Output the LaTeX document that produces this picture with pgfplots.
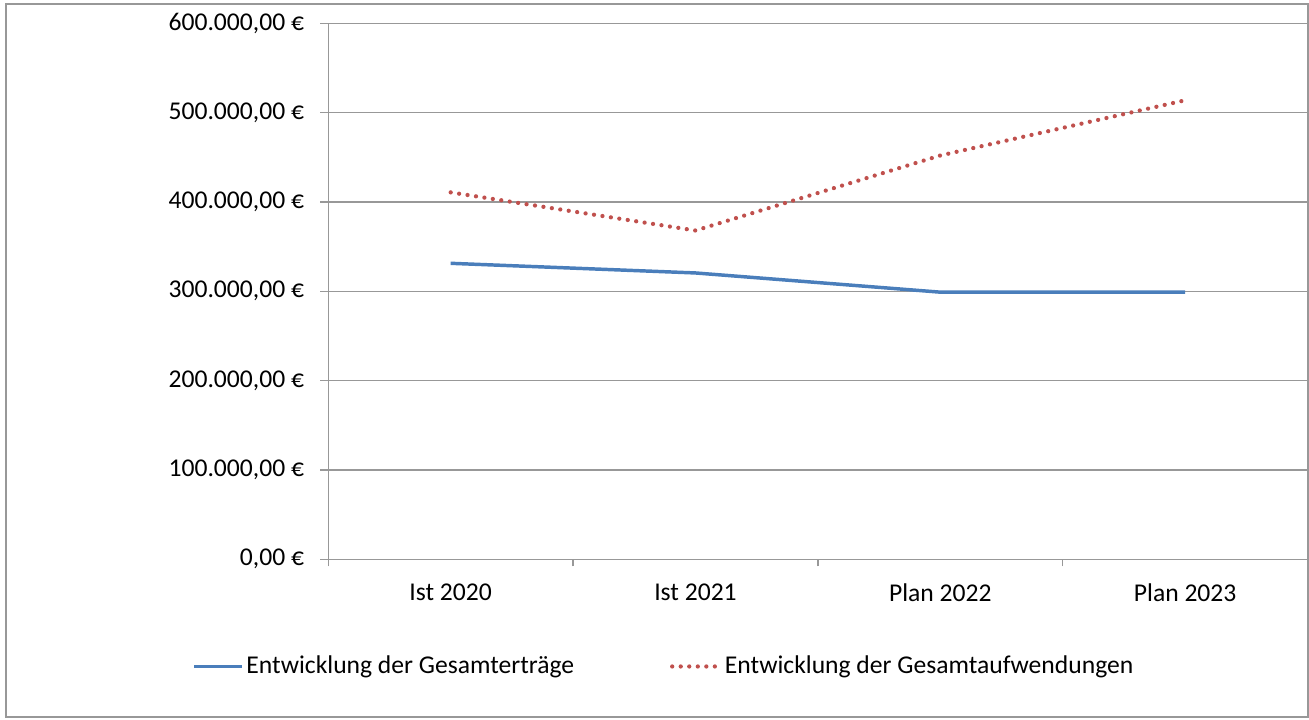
\documentclass[border=0pt]{standalone}
\usepackage{pgfplots}
\pgfplotsset{compat=1.18}
\usepackage{fontspec}
\setmainfont{Carlito}
\definecolor{xblue}{HTML}{4A7EBB}
\definecolor{xred}{HTML}{C0504D}
\definecolor{xgrid}{HTML}{989898}
\begin{document}
\fontsize{19.2}{23}\selectfont
\begin{tikzpicture}
\path (0pt,0pt) rectangle (981.75pt,539.25pt);
\draw[xgrid, line width=0.9pt] (4.5pt,1.5pt) rectangle (981pt,536.25pt);
\begin{axis}[
  at={(338pt,119.8pt)}, anchor=origin,
  scale only axis, width=734.5pt, height=402pt,
  xmin=-0.5, xmax=3.5, ymin=0, ymax=600000,
  scaled y ticks=false,
  axis x line=bottom, axis y line=left,
  axis line style={xgrid, line width=0.9pt, -},
  xtick={0,1,2,3},
  xticklabels={Ist 2020, Ist 2021, Plan 2022, Plan 2023},
  major x tick style={draw=none},
  minor xtick={-0.5,0.5,1.5,2.5,3.5},
  minor tick length=5.25pt,
  minor x tick style={xgrid, line width=0.9pt},
  ytick={0,100000,200000,300000,400000,500000,600000},
  yticklabels={{0,00 €},{100.000,00 €},{200.000,00 €},{300.000,00 €},{400.000,00 €},{500.000,00 €},{600.000,00 €}},
  tick align=outside, major tick length=6pt,
  major y tick style={xgrid, line width=0.9pt},
  ymajorgrids, grid style={xgrid, line width=0.9pt},
  xticklabel style={inner sep=0pt, yshift=-12pt},
  yticklabel style={inner sep=0pt, xshift=-12pt},
  tick label style={font=\fontsize{19.2}{23}\selectfont},
  clip=false,
  legend columns=2,
  legend style={at={(0.343,-0.2)}, anchor=center, draw=none, fill=none,
    font=\fontsize{19.2}{23}\selectfont,
    /tikz/every odd column/.append style={column sep=0pt},
    /tikz/every even column/.append style={column sep=70pt},
    nodes={inner sep=2pt}},
  legend image code/.code={\draw[#1] (0pt,0pt) -- (36pt,0pt);},
]
\addplot[xblue, line width=2.6pt] coordinates {(0,331300) (1,320500) (2,299000) (3,299000)};
\addlegendentry{Entwicklung der Gesamterträge}
\addplot[xred, line width=3.2pt, line cap=round, dash pattern=on 0pt off 6.4pt] coordinates {(0,410700) (1,368000) (2,452000) (3,513800)};
\addlegendentry{Entwicklung der Gesamtaufwendungen}
\end{axis}
\end{tikzpicture}
\end{document}
